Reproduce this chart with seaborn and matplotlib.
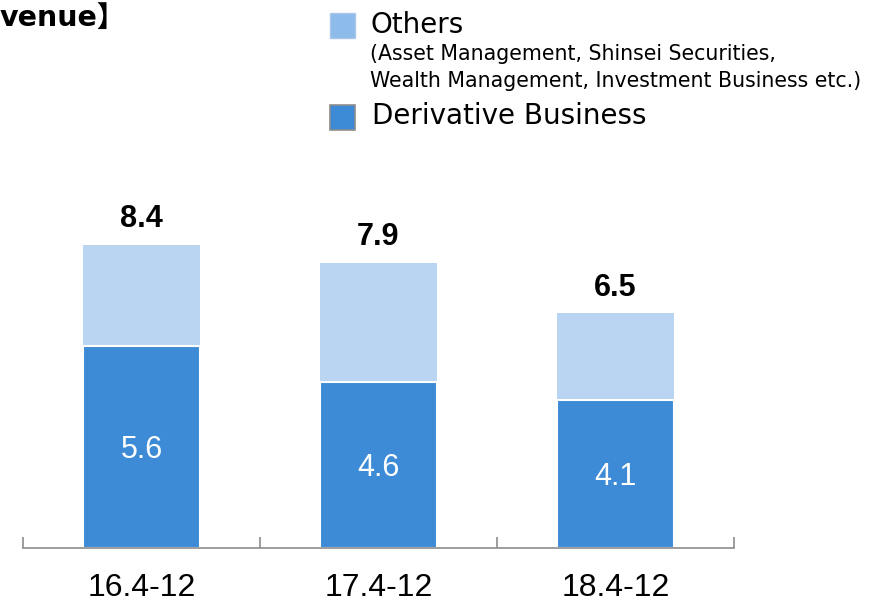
import matplotlib
matplotlib.use("Agg")
import matplotlib.pyplot as plt
from matplotlib.patches import Rectangle
import seaborn as sns
import pandas as pd

periods = ["16.4-12", "17.4-12", "18.4-12"]
derivative = [5.6, 4.6, 4.1]
others = [2.8, 3.3, 2.4]
totals = [8.4, 7.9, 6.5]

c_deriv = "#3d8bd7"
c_other = "#bad5f1"
c_other_legend = "#8dbbea"

sns.set_theme(style="white")
plt.rcParams["font.family"] = ["DejaVu Sans", "Noto Sans CJK JP"]
plt.rcParams["text.color"] = "black"
plt.rcParams["xtick.color"] = "black"

arial = ["Liberation Sans", "Arial"]

df = pd.DataFrame({"period": periods, "derivative": derivative,
                   "others": others, "total": totals})

fig = plt.figure(figsize=(8.77, 6.03), dpi=100)
ax = fig.add_axes([23 / 877, 1 - 548 / 603, (734 - 23) / 877, 361 / 603])

# total bar in light colour, derivative drawn over it
sns.barplot(data=df, x="period", y="total", color=c_other, width=0.49,
            saturation=1, ax=ax, linewidth=0)
sns.barplot(data=df, x="period", y="derivative", color=c_deriv, width=0.49,
            saturation=1, ax=ax, edgecolor="white", linewidth=1.5)

ax.set_xlim(-0.5, 2.5)
ax.set_ylim(0, 10)
ax.set_xlabel("")
ax.set_ylabel("")
ax.set_yticks([])
for s in ["top", "right", "left"]:
    ax.spines[s].set_visible(False)
ax.spines["bottom"].set_color("#8c8c8c")
ax.spines["bottom"].set_linewidth(1.2)

ax.set_xticks(range(len(periods)))
ax.set_xticklabels(periods, fontsize=23, family=arial, color="black")
ax.tick_params(axis="x", which="major", length=0, pad=18)
ax.set_xticks([-0.5, 0.5, 1.5, 2.5], minor=True)
ax.tick_params(axis="x", which="minor", direction="in", length=8,
               width=1.2, color="#8c8c8c", bottom=True)

for i in range(len(periods)):
    ax.text(i, totals[i] + 0.3, f"{totals[i]:.1f}", ha="center", va="bottom",
            fontsize=22, fontweight="bold", family=arial, color="black")
    ax.text(i, derivative[i] / 2 - 0.08, f"{derivative[i]:.1f}", ha="center",
            va="center", fontsize=22, color="white", family=arial)

# title fragment, cut at the left edge
fig.text(0, 1 - 18 / 603, "venue】", fontsize=20.5, fontweight="bold",
         va="center", ha="left", family=["DejaVu Sans", "Noto Sans CJK JP"])

# legend
def fpos(x, y):
    return x / 877, 1 - y / 603

x0, y0 = fpos(330, 38)
fig.add_artist(Rectangle((x0, y0), 25 / 877, 25 / 603, transform=fig.transFigure,
                         facecolor=c_other_legend, edgecolor="#a9c8ea", linewidth=1))
x0, y0 = fpos(330, 130)
fig.add_artist(Rectangle((x0, y0), 25 / 877, 25 / 603, transform=fig.transFigure,
                         facecolor=c_deriv, edgecolor="#8c8c8c", linewidth=1.2))

fig.text(*fpos(371, 25), "Others", fontsize=20, va="center", ha="left")
fig.text(*fpos(370, 54), "(Asset Management, Shinsei Securities,", fontsize=14.8,
         va="center", ha="left")
fig.text(*fpos(370, 81), "Wealth Management, Investment Business etc.)",
         fontsize=14.8, va="center", ha="left")
fig.text(*fpos(372, 116), "Derivative Business", fontsize=20, va="center", ha="left")

fig.savefig("out.png", dpi=100)
